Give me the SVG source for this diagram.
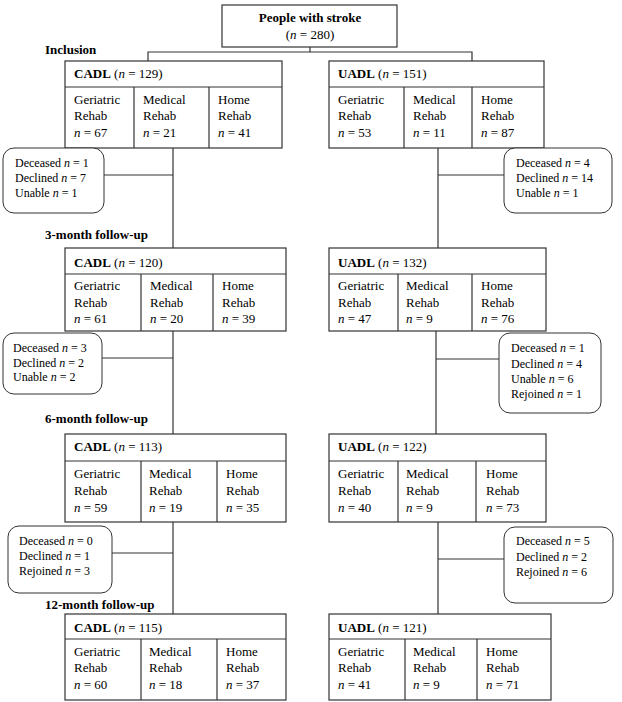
<svg xmlns="http://www.w3.org/2000/svg" width="622" height="702" viewBox="0 0 622 702" font-family="'Liberation Serif', 'Times New Roman', 'DejaVu Serif', serif">
<style>
text{font-family:'Liberation Serif','Times New Roman','DejaVu Serif',serif;font-size:13px;fill:#000}
.b{font-weight:bold}
.s{font-size:12px}
.c{text-anchor:middle}
.box{fill:#fff;stroke:#333;stroke-width:1.2}
.div{stroke:#333;stroke-width:1.2}
.side{fill:#fff;stroke:#333;stroke-width:1}
.conn line,.conn polyline{stroke:#333;stroke-width:1.2;fill:none}
</style>
<rect width="622" height="702" fill="#fff"/>
<g class="conn">
<line x1="310" y1="47" x2="310" y2="52"/>
<polyline points="148,61 148,52 472,52 472,61"/>
<line x1="173" y1="148" x2="173" y2="248"/>
<line x1="104" y1="175" x2="173" y2="175"/>
<line x1="438" y1="148" x2="438" y2="248"/>
<line x1="438" y1="175" x2="504" y2="175"/>
<line x1="173" y1="331" x2="173" y2="434"/>
<line x1="102" y1="358" x2="173" y2="358"/>
<line x1="436" y1="331" x2="436" y2="434"/>
<line x1="436" y1="359" x2="499" y2="359"/>
<line x1="173" y1="522" x2="173" y2="614"/>
<line x1="112" y1="553" x2="173" y2="553"/>
<line x1="438" y1="522" x2="438" y2="614"/>
<line x1="438" y1="559" x2="504" y2="559"/>
</g>
<g id="top">
<rect class="box" x="222" y="5" width="175" height="42"/>
<text class="b c" x="310" y="21.5">People with stroke</text>
<text class="c" x="310" y="38.5">(<tspan font-style="italic">n</tspan> = 280)</text>
</g>
<g id="labels">
<text class="b" x="45" y="54">Inclusion</text>
<text class="b" x="45" y="239">3-month follow-up</text>
<text class="b" x="45" y="423">6-month follow-up</text>
<text class="b" x="45" y="609">12-month follow-up</text>
</g>
<g id="cadl0">
<rect class="box" x="65" y="61" width="217" height="87"/>
<line class="div" x1="65" y1="87" x2="282" y2="87"/>
<line class="div" x1="134" y1="87" x2="134" y2="148"/>
<line class="div" x1="209" y1="87" x2="209" y2="148"/>
<text x="74" y="78"><tspan class="b">CADL</tspan> (<tspan font-style="italic">n</tspan> = 129)</text>
<text x="74" y="103.5">Geriatric</text><text x="74" y="120">Rehab</text><text x="74" y="136.5"><tspan font-style="italic">n</tspan> = 67</text>
<text x="143" y="103.5">Medical</text><text x="143" y="120">Rehab</text><text x="143" y="136.5"><tspan font-style="italic">n</tspan> = 21</text>
<text x="218" y="103.5">Home</text><text x="218" y="120">Rehab</text><text x="218" y="136.5"><tspan font-style="italic">n</tspan> = 41</text>
</g>
<g id="uadl0">
<rect class="box" x="329" y="61" width="215" height="87"/>
<line class="div" x1="329" y1="87" x2="544" y2="87"/>
<line class="div" x1="404" y1="87" x2="404" y2="148"/>
<line class="div" x1="472" y1="87" x2="472" y2="148"/>
<text x="338" y="78"><tspan class="b">UADL</tspan> (<tspan font-style="italic">n</tspan> = 151)</text>
<text x="338" y="103.5">Geriatric</text><text x="338" y="120">Rehab</text><text x="338" y="136.5"><tspan font-style="italic">n</tspan> = 53</text>
<text x="413" y="103.5">Medical</text><text x="413" y="120">Rehab</text><text x="413" y="136.5"><tspan font-style="italic">n</tspan> = 11</text>
<text x="481" y="103.5">Home</text><text x="481" y="120">Rehab</text><text x="481" y="136.5"><tspan font-style="italic">n</tspan> = 87</text>
</g>
<g id="exitL1">
<rect class="side" x="3" y="148" width="101" height="65" rx="11"/>
<text class="s" x="15" y="167">Deceased <tspan font-style="italic">n</tspan> = 1</text>
<text class="s" x="15" y="182">Declined <tspan font-style="italic">n</tspan> = 7</text>
<text class="s" x="15" y="197">Unable <tspan font-style="italic">n</tspan> = 1</text>
</g>
<g id="exitR1">
<rect class="side" x="504" y="148" width="108" height="65" rx="11"/>
<text class="s" x="516" y="167">Deceased <tspan font-style="italic">n</tspan> = 4</text>
<text class="s" x="516" y="182">Declined <tspan font-style="italic">n</tspan> = 14</text>
<text class="s" x="516" y="197">Unable <tspan font-style="italic">n</tspan> = 1</text>
</g>
<g id="cadl3">
<rect class="box" x="65" y="248" width="221" height="83"/>
<line class="div" x1="65" y1="274" x2="286" y2="274"/>
<line class="div" x1="141" y1="274" x2="141" y2="331"/>
<line class="div" x1="213" y1="274" x2="213" y2="331"/>
<text x="74" y="266.5"><tspan class="b">CADL</tspan> (<tspan font-style="italic">n</tspan> = 120)</text>
<text x="74" y="290">Geriatric</text><text x="74" y="306.5">Rehab</text><text x="74" y="323"><tspan font-style="italic">n</tspan> = 61</text>
<text x="150" y="290">Medical</text><text x="150" y="306.5">Rehab</text><text x="150" y="323"><tspan font-style="italic">n</tspan> = 20</text>
<text x="222" y="290">Home</text><text x="222" y="306.5">Rehab</text><text x="222" y="323"><tspan font-style="italic">n</tspan> = 39</text>
</g>
<g id="uadl3">
<rect class="box" x="329" y="248" width="217" height="83"/>
<line class="div" x1="329" y1="274" x2="546" y2="274"/>
<line class="div" x1="398" y1="274" x2="398" y2="331"/>
<line class="div" x1="472" y1="274" x2="472" y2="331"/>
<text x="338" y="266.5"><tspan class="b">UADL</tspan> (<tspan font-style="italic">n</tspan> = 132)</text>
<text x="338" y="290">Geriatric</text><text x="338" y="306.5">Rehab</text><text x="338" y="323"><tspan font-style="italic">n</tspan> = 47</text>
<text x="406" y="290">Medical</text><text x="406" y="306.5">Rehab</text><text x="406" y="323"><tspan font-style="italic">n</tspan> = 9</text>
<text x="481" y="290">Home</text><text x="481" y="306.5">Rehab</text><text x="481" y="323"><tspan font-style="italic">n</tspan> = 76</text>
</g>
<g id="exitL2">
<rect class="side" x="3" y="333" width="99" height="61" rx="11"/>
<text class="s" x="13" y="351.5">Deceased <tspan font-style="italic">n</tspan> = 3</text>
<text class="s" x="13" y="366.5">Declined <tspan font-style="italic">n</tspan> = 2</text>
<text class="s" x="13" y="381">Unable <tspan font-style="italic">n</tspan> = 2</text>
</g>
<g id="exitR2">
<rect class="side" x="499" y="333" width="102" height="80" rx="11"/>
<text class="s" x="511" y="352">Deceased <tspan font-style="italic">n</tspan> = 1</text>
<text class="s" x="511" y="367.5">Declined <tspan font-style="italic">n</tspan> = 4</text>
<text class="s" x="511" y="383">Unable <tspan font-style="italic">n</tspan> = 6</text>
<text class="s" x="511" y="398">Rejoined <tspan font-style="italic">n</tspan> = 1</text>
</g>
<g id="cadl6">
<rect class="box" x="65" y="434" width="221" height="88"/>
<line class="div" x1="65" y1="461" x2="286" y2="461"/>
<line class="div" x1="141" y1="461" x2="141" y2="522"/>
<line class="div" x1="217" y1="461" x2="217" y2="522"/>
<text x="74" y="451"><tspan class="b">CADL</tspan> (<tspan font-style="italic">n</tspan> = 113)</text>
<text x="74" y="477.5">Geriatric</text><text x="74" y="495">Rehab</text><text x="74" y="511.5"><tspan font-style="italic">n</tspan> = 59</text>
<text x="149" y="477.5">Medical</text><text x="149" y="495">Rehab</text><text x="149" y="511.5"><tspan font-style="italic">n</tspan> = 19</text>
<text x="226" y="477.5">Home</text><text x="226" y="495">Rehab</text><text x="226" y="511.5"><tspan font-style="italic">n</tspan> = 35</text>
</g>
<g id="uadl6">
<rect class="box" x="329" y="434" width="217" height="88"/>
<line class="div" x1="329" y1="461" x2="546" y2="461"/>
<line class="div" x1="398" y1="461" x2="398" y2="522"/>
<line class="div" x1="476" y1="461" x2="476" y2="522"/>
<text x="338" y="451"><tspan class="b">UADL</tspan> (<tspan font-style="italic">n</tspan> = 122)</text>
<text x="338" y="477.5">Geriatric</text><text x="338" y="495">Rehab</text><text x="338" y="511.5"><tspan font-style="italic">n</tspan> = 40</text>
<text x="406" y="477.5">Medical</text><text x="406" y="495">Rehab</text><text x="406" y="511.5"><tspan font-style="italic">n</tspan> = 9</text>
<text x="486" y="477.5">Home</text><text x="486" y="495">Rehab</text><text x="486" y="511.5"><tspan font-style="italic">n</tspan> = 73</text>
</g>
<g id="exitL3">
<rect class="side" x="8" y="526" width="104" height="67" rx="11"/>
<text class="s" x="19" y="545">Deceased <tspan font-style="italic">n</tspan> = 0</text>
<text class="s" x="19" y="560">Declined <tspan font-style="italic">n</tspan> = 1</text>
<text class="s" x="19" y="575">Rejoined <tspan font-style="italic">n</tspan> = 3</text>
</g>
<g id="exitR3">
<rect class="side" x="504" y="527" width="109" height="76" rx="11"/>
<text class="s" x="516" y="545">Deceased <tspan font-style="italic">n</tspan> = 5</text>
<text class="s" x="516" y="561">Declined <tspan font-style="italic">n</tspan> = 2</text>
<text class="s" x="516" y="576">Rejoined <tspan font-style="italic">n</tspan> = 6</text>
</g>
<g id="cadl12">
<rect class="box" x="65" y="614" width="221" height="86"/>
<line class="div" x1="65" y1="639" x2="286" y2="639"/>
<line class="div" x1="141" y1="639" x2="141" y2="700"/>
<line class="div" x1="217" y1="639" x2="217" y2="700"/>
<text x="74" y="631.5"><tspan class="b">CADL</tspan> (<tspan font-style="italic">n</tspan> = 115)</text>
<text x="74" y="655.5">Geriatric</text><text x="74" y="672">Rehab</text><text x="74" y="688.5"><tspan font-style="italic">n</tspan> = 60</text>
<text x="149" y="655.5">Medical</text><text x="149" y="672">Rehab</text><text x="149" y="688.5"><tspan font-style="italic">n</tspan> = 18</text>
<text x="226" y="655.5">Home</text><text x="226" y="672">Rehab</text><text x="226" y="688.5"><tspan font-style="italic">n</tspan> = 37</text>
</g>
<g id="uadl12">
<rect class="box" x="329" y="614" width="222" height="86"/>
<line class="div" x1="329" y1="639" x2="551" y2="639"/>
<line class="div" x1="405" y1="639" x2="405" y2="700"/>
<line class="div" x1="477" y1="639" x2="477" y2="700"/>
<text x="338" y="631.5"><tspan class="b">UADL</tspan> (<tspan font-style="italic">n</tspan> = 121)</text>
<text x="338" y="655.5">Geriatric</text><text x="338" y="672">Rehab</text><text x="338" y="688.5"><tspan font-style="italic">n</tspan> = 41</text>
<text x="413" y="655.5">Medical</text><text x="413" y="672">Rehab</text><text x="413" y="688.5"><tspan font-style="italic">n</tspan> = 9</text>
<text x="486" y="655.5">Home</text><text x="486" y="672">Rehab</text><text x="486" y="688.5"><tspan font-style="italic">n</tspan> = 71</text>
</g>
</svg>
